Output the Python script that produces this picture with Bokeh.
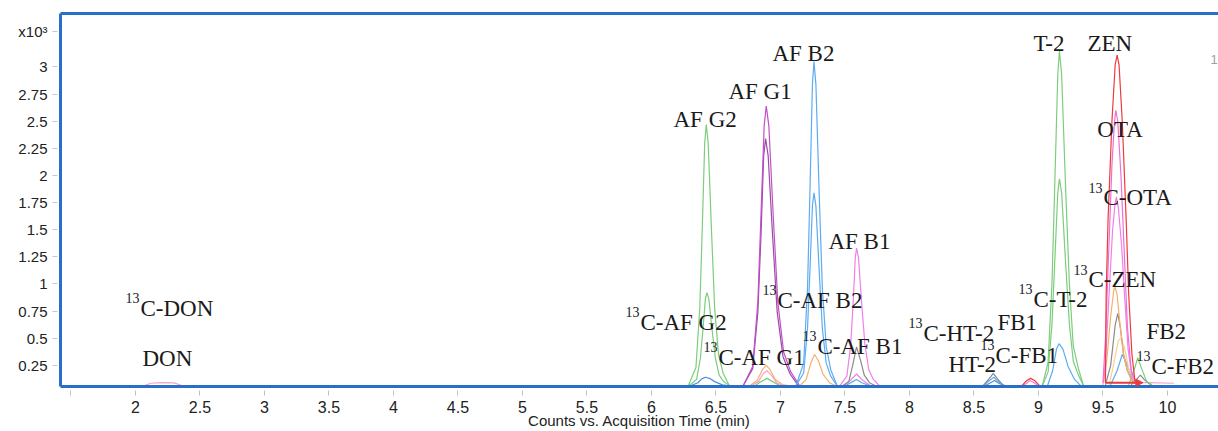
from bokeh.plotting import figure
from bokeh.models import FixedTicker, LinearAxis, Label, Range1d, Arrow, NormalHead, ColumnDataSource
from bokeh.core.properties import value
from bokeh.embed import file_html
from bokeh.resources import INLINE

# ---------------- data ----------------
x_ticks = [1.5, 2, 2.5, 3, 3.5, 4, 4.5, 5, 5.5, 6, 6.5, 7, 7.5, 8, 8.5, 9, 9.5, 10]
x_tick_labels = ["", "2", "2.5", "3", "3.5", "4", "4.5", "5", "5.5", "6", "6.5", "7", "7.5", "8", "8.5", "9", "9.5", "10"]
y_ticks = [0.25, 0.5, 0.75, 1, 1.25, 1.5, 1.75, 2, 2.25, 2.5, 2.75, 3]
y_tick_labels = ["0.25", "0.5", "0.75", "1", "1.25", "1.5", "1.75", "2", "2.25", "2.5", "2.75", "3"]
y_unit_label = "x10\u00b3"
x_title = "Counts vs. Acquisition Time (min)"

# chromatogram traces: acquisition time (min) / counts (x10^3)
DON_t = [2.06, 2.12, 2.20, 2.30, 2.37]
DON_v = [0.06, 0.085, 0.09, 0.088, 0.06]

AF_G2_t = [6.285, 6.345, 6.375, 6.395, 6.413, 6.425, 6.44, 6.465, 6.49, 6.52, 6.555, 6.605]
AF_G2_v = [0.06, 0.23, 0.78, 1.55, 2.30, 2.47, 2.30, 1.51, 0.78, 0.35, 0.18, 0.06]
C13_AF_G2_t = [6.29, 6.35, 6.38, 6.40, 6.418, 6.43, 6.445, 6.47, 6.495, 6.525, 6.56, 6.61]
C13_AF_G2_v = [0.06, 0.12, 0.32, 0.59, 0.86, 0.92, 0.86, 0.58, 0.32, 0.16, 0.10, 0.06]
BLUE_G2_t = [6.30, 6.36, 6.39, 6.42, 6.45, 6.49, 6.55, 6.60]
BLUE_G2_v = [0.06, 0.09, 0.125, 0.14, 0.13, 0.10, 0.07, 0.06]

AF_G1_t = [6.71, 6.785, 6.825, 6.85, 6.874, 6.89, 6.91, 6.945, 6.98, 7.025, 7.08, 7.15]
AF_G1_v = [0.06, 0.24, 0.83, 1.66, 2.46, 2.64, 2.46, 1.61, 0.83, 0.37, 0.19, 0.06]
AF_G1B_t = [6.71, 6.785, 6.825, 6.85, 6.87, 6.885, 6.905, 6.94, 6.975, 7.02, 7.075, 7.14]
AF_G1B_v = [0.06, 0.22, 0.74, 1.47, 2.18, 2.34, 2.18, 1.43, 0.74, 0.33, 0.17, 0.06]
C13_AF_G1_t = [6.76, 6.82, 6.86, 6.89, 6.92, 6.96, 7.02, 7.08]
C13_AF_G1_v = [0.06, 0.11, 0.21, 0.25, 0.21, 0.12, 0.07, 0.06]
PINK_G1_t = [6.77, 6.83, 6.865, 6.895, 6.93, 6.97, 7.03]
PINK_G1_v = [0.06, 0.10, 0.17, 0.20, 0.16, 0.09, 0.06]
GREEN_G1_t = [6.80, 6.85, 6.895, 6.94, 7.00]
GREEN_G1_v = [0.06, 0.10, 0.13, 0.10, 0.06]

AF_B2_t = [7.12, 7.18, 7.21, 7.23, 7.248, 7.26, 7.275, 7.30, 7.325, 7.355, 7.39, 7.44]
AF_B2_v = [0.06, 0.27, 0.96, 1.91, 2.84, 3.05, 2.84, 1.85, 0.96, 0.42, 0.21, 0.06]
AF_B2B_t = [7.12, 7.18, 7.21, 7.23, 7.248, 7.26, 7.275, 7.30, 7.325, 7.355, 7.39, 7.44]
AF_B2B_v = [0.06, 0.18, 0.59, 1.16, 1.72, 1.84, 1.72, 1.13, 0.59, 0.27, 0.15, 0.06]
C13_AF_B2_t = [7.15, 7.20, 7.235, 7.265, 7.295, 7.33, 7.38, 7.43]
C13_AF_B2_v = [0.06, 0.12, 0.27, 0.35, 0.29, 0.17, 0.09, 0.06]

AF_B1_t = [7.46, 7.515, 7.545, 7.565, 7.58, 7.59, 7.605, 7.63, 7.655, 7.685, 7.72, 7.77]
AF_B1_v = [0.06, 0.15, 0.44, 0.85, 1.24, 1.33, 1.24, 0.82, 0.44, 0.21, 0.12, 0.06]
C13_AF_B1_t = [7.48, 7.53, 7.56, 7.59, 7.62, 7.65, 7.69, 7.74]
C13_AF_B1_v = [0.06, 0.10, 0.25, 0.42, 0.30, 0.16, 0.09, 0.06]
PINK_B1_t = [7.49, 7.55, 7.59, 7.63, 7.70]
PINK_B1_v = [0.06, 0.12, 0.17, 0.12, 0.06]
BLUE_B1_t = [7.50, 7.56, 7.59, 7.63, 7.70]
BLUE_B1_v = [0.06, 0.10, 0.12, 0.09, 0.06]

HT2_t = [8.57, 8.62, 8.65, 8.68, 8.73]
HT2_v = [0.06, 0.13, 0.175, 0.13, 0.06]
C13_HT2_t = [8.57, 8.62, 8.655, 8.69, 8.74]
C13_HT2_v = [0.06, 0.11, 0.14, 0.10, 0.06]
FB1_t = [8.58, 8.63, 8.66, 8.70, 8.75]
FB1_v = [0.06, 0.09, 0.11, 0.08, 0.06]
C13_FB1_t = [8.87, 8.91, 8.94, 8.97, 9.01]
C13_FB1_v = [0.06, 0.11, 0.13, 0.11, 0.06]
PINK_89_t = [8.88, 8.915, 8.935, 8.965, 9.0]
PINK_89_v = [0.06, 0.09, 0.11, 0.09, 0.06]

T2_t = [9.03, 9.075, 9.105, 9.128, 9.15, 9.163, 9.18, 9.21, 9.24, 9.27, 9.31, 9.35]
T2_v = [0.06, 0.28, 1.00, 1.97, 2.93, 3.15, 2.93, 1.91, 1.00, 0.43, 0.22, 0.06]
C13_T2_t = [9.03, 9.075, 9.105, 9.128, 9.15, 9.163, 9.18, 9.21, 9.24, 9.27, 9.31, 9.35]
C13_T2_v = [0.06, 0.19, 0.63, 1.24, 1.84, 1.97, 1.84, 1.21, 0.63, 0.29, 0.16, 0.06]
BLUE_T2_t = [9.07, 9.11, 9.14, 9.16, 9.19, 9.23, 9.28, 9.33]
BLUE_T2_v = [0.06, 0.20, 0.40, 0.45, 0.40, 0.24, 0.12, 0.06]

ZEN_t = [9.52, 9.525, 9.54, 9.57, 9.595, 9.61, 9.625, 9.65, 9.68, 9.70, 9.725, 9.75]
ZEN_v = [0.09, 0.90, 1.60, 2.50, 3.02, 3.11, 3.02, 2.50, 1.60, 0.90, 0.35, 0.09]
OTA_t = [9.50, 9.52, 9.545, 9.57, 9.59, 9.60, 9.615, 9.64, 9.665, 9.69, 9.72, 9.76]
OTA_v = [0.09, 0.50, 1.30, 2.10, 2.50, 2.60, 2.50, 2.00, 1.30, 0.60, 0.20, 0.08]
C13_OTA_t = [9.505, 9.525, 9.55, 9.575, 9.595, 9.605, 9.62, 9.645, 9.67, 9.695, 9.725, 9.76]
C13_OTA_v = [0.09, 0.40, 0.95, 1.50, 1.75, 1.80, 1.70, 1.35, 0.85, 0.40, 0.15, 0.08]
C13_ZEN_t = [9.50, 9.53, 9.56, 9.585, 9.595, 9.61, 9.635, 9.66, 9.69, 9.72, 9.76]
C13_ZEN_v = [0.07, 0.30, 0.70, 0.95, 0.97, 0.90, 0.60, 0.35, 0.20, 0.12, 0.07]
GRAY_96_t = [9.52, 9.56, 9.595, 9.615, 9.635, 9.66, 9.69, 9.73, 9.77]
GRAY_96_v = [0.07, 0.25, 0.62, 0.73, 0.60, 0.35, 0.20, 0.10, 0.07]
ORANGE_96_t = [9.55, 9.59, 9.62, 9.64, 9.67, 9.70, 9.74, 9.78]
ORANGE_96_v = [0.07, 0.30, 0.48, 0.50, 0.40, 0.22, 0.10, 0.07]
BLUE_96_t = [9.56, 9.61, 9.65, 9.69, 9.73, 9.78]
BLUE_96_v = [0.07, 0.20, 0.35, 0.25, 0.12, 0.07]
FB2_t = [9.70, 9.74, 9.77, 9.80, 9.84, 9.88]
FB2_v = [0.07, 0.20, 0.32, 0.22, 0.10, 0.07]
C13_FB2_t = [9.72, 9.76, 9.79, 9.82, 9.87]
C13_FB2_v = [0.07, 0.12, 0.16, 0.12, 0.07]
TAIL_t = [9.75, 9.85, 10.05]
TAIL_v = [0.09, 0.09, 0.085]

RED_BAR_t = [9.52, 9.81]
RED_BAR_v = [0.09, 0.09]

# peak labels: isotope prefix flag, text
label_iso = [True, False, False, False, False, False, True, True, True, True,
             False, False, False, True, True, True, True, False, False, True, False, True]
label_text = ["C-DON", "DON", "AF G2", "AF G1", "AF B2", "AF B1", "C-AF G2", "C-AF G1", "C-AF B2", "C-AF B1",
              "T-2", "ZEN", "OTA", "C-OTA", "C-ZEN", "C-T-2", "C-HT-2", "FB1", "HT-2", "C-FB1", "FB2", "C-FB2"]

# ---------------- layout / style ----------------
label_x = [2.039, 2.054, 6.171, 6.597, 6.938, 7.372, 5.915, 6.519, 6.977, 7.287,
           8.961, 9.380, 9.457, 9.504, 9.388, 8.961, 8.109, 8.682, 8.302, 8.667, 9.837, 9.876]
label_y = [0.774, 0.313, 2.516, 2.774, 3.124, 1.392, 0.645, 0.323, 0.848, 0.424,
           3.217, 3.217, 2.424, 1.797, 1.041, 0.857, 0.544, 0.645, 0.258, 0.341, 0.562, 0.240]
unit_pos = 3.33

GREEN = "#7ccd7c"
BLUE = "#5eabef"
BLUE2 = "#4b8fdc"
PURPLE = "#c24fc9"
PURPLE2 = "#9b4aa6"
PINK = "#f27fe6"
PALEPINK = "#f3a3c6"
ORANGE = "#f5b16c"
PALEORANGE = "#f8d08f"
GRAY = "#8a8a8a"
RED = "#ee3a3a"
FRAME = "#2a6fc7"

traces = [
    (DON_t, DON_v, PALEPINK),
    (BLUE_G2_t, BLUE_G2_v, BLUE2), (C13_AF_G2_t, C13_AF_G2_v, GREEN), (AF_G2_t, AF_G2_v, GREEN),
    (GREEN_G1_t, GREEN_G1_v, GREEN), (PINK_G1_t, PINK_G1_v, PALEPINK), (C13_AF_G1_t, C13_AF_G1_v, ORANGE),
    (AF_G1B_t, AF_G1B_v, PURPLE2), (AF_G1_t, AF_G1_v, PURPLE),
    (C13_AF_B2_t, C13_AF_B2_v, ORANGE), (AF_B2B_t, AF_B2B_v, BLUE), (AF_B2_t, AF_B2_v, BLUE),
    (BLUE_B1_t, BLUE_B1_v, BLUE), (PINK_B1_t, PINK_B1_v, PINK), (C13_AF_B1_t, C13_AF_B1_v, GRAY), (AF_B1_t, AF_B1_v, PINK),
    (FB1_t, FB1_v, BLUE2), (C13_HT2_t, C13_HT2_v, BLUE), (HT2_t, HT2_v, GRAY),
    (PINK_89_t, PINK_89_v, PINK), (C13_FB1_t, C13_FB1_v, RED),
    (BLUE_T2_t, BLUE_T2_v, BLUE), (C13_T2_t, C13_T2_v, GREEN), (T2_t, T2_v, GREEN),
    (TAIL_t, TAIL_v, PALEPINK), (C13_FB2_t, C13_FB2_v, GRAY), (FB2_t, FB2_v, GREEN),
    (BLUE_96_t, BLUE_96_v, BLUE), (ORANGE_96_t, ORANGE_96_v, PALEORANGE), (GRAY_96_t, GRAY_96_v, GRAY),
    (C13_ZEN_t, C13_ZEN_v, ORANGE), (C13_OTA_t, C13_OTA_v, PINK), (OTA_t, OTA_v, "#ee6fd8"),
    (ZEN_t, ZEN_v, RED),
]

p = figure(width=1218, height=431, x_range=Range1d(1.419, 10.396), y_range=Range1d(0.055, 3.493),
           output_backend="svg", toolbar_location=None,
           min_border_left=60, min_border_right=0, min_border_top=13, min_border_bottom=45)
p.outline_line_color = None
p.xgrid.visible = False
p.ygrid.visible = False
p.background_fill_color = "white"
p.border_fill_color = "white"

for t, v, c in traces:
    p.line(t, v, line_color=c, line_width=1.2)

p.add_layout(Arrow(end=NormalHead(size=7, fill_color=RED, line_color=RED),
                   x_start=RED_BAR_t[0], y_start=RED_BAR_v[0], x_end=RED_BAR_t[1], y_end=RED_BAR_v[1],
                   line_color=RED, line_width=2))

xa = p.xaxis[0]
xa.ticker = FixedTicker(ticks=x_ticks)
xa.major_label_overrides = dict(zip(x_ticks, x_tick_labels))
xa.axis_line_color = FRAME
xa.axis_line_width = 3
xa.major_tick_line_color = "#c0c0c0"
xa.major_tick_in = -4
xa.major_tick_out = 9
xa.minor_tick_line_color = None
xa.major_label_standoff = 5
xa.major_label_text_font = "Liberation Sans"
xa.major_label_text_font_size = "16px"
xa.major_label_text_color = "#222222"
xa.major_label_text_line_height = 1.0
xa.axis_label = x_title
xa.axis_label_text_font = "Liberation Sans"
xa.axis_label_text_font_size = "15px"
xa.axis_label_text_font_style = "normal"
xa.axis_label_text_color = "#222222"
xa.axis_label_text_line_height = 1.0
xa.axis_label_standoff = -4

ya = p.yaxis[0]
ya.ticker = FixedTicker(ticks=y_ticks + [unit_pos])
overrides = dict(zip(y_ticks, y_tick_labels))
overrides[unit_pos] = y_unit_label
ya.major_label_overrides = overrides
ya.axis_line_color = FRAME
ya.axis_line_width = 3
ya.major_tick_line_color = "#c8c8c8"
ya.major_tick_in = -3
ya.major_tick_out = 8
ya.minor_tick_line_color = None
ya.major_label_standoff = 5
ya.major_label_text_font = "Liberation Sans"
ya.major_label_text_font_size = "15px"
ya.major_label_text_color = "#222222"

top = LinearAxis(ticker=FixedTicker(ticks=[]), axis_line_color=FRAME, axis_line_width=3,
                 major_tick_line_color=None, minor_tick_line_color=None,
                 major_label_text_font_size="0px")
p.add_layout(top, "above")

main_src = ColumnDataSource(dict(x=label_x, y=label_y, text=label_text))
p.text("x", "y", "text", source=main_src, text_font=value("Liberation Serif"), text_font_size="23px",
       text_align="left", text_baseline="alphabetic", text_color="#1a1a1a")
iso_x = [x for x, f in zip(label_x, label_iso) if f]
iso_y = [y for y, f in zip(label_y, label_iso) if f]
iso_src = ColumnDataSource(dict(x=iso_x, y=iso_y, text=["13"] * len(iso_x)))
p.text("x", "y", "text", source=iso_src, text_font=value("Liberation Serif"), text_font_size="14px",
       text_align="right", text_baseline="alphabetic", text_color="#1a1a1a", x_offset=-1, y_offset=-10)

p.add_layout(Label(x=10.334, y=3.069, text="1", text_font="Liberation Sans", text_font_size="13px",
                   text_color="#a0a0a0", text_baseline="middle"))

open("out.html", "w").write(file_html(p, INLINE))
